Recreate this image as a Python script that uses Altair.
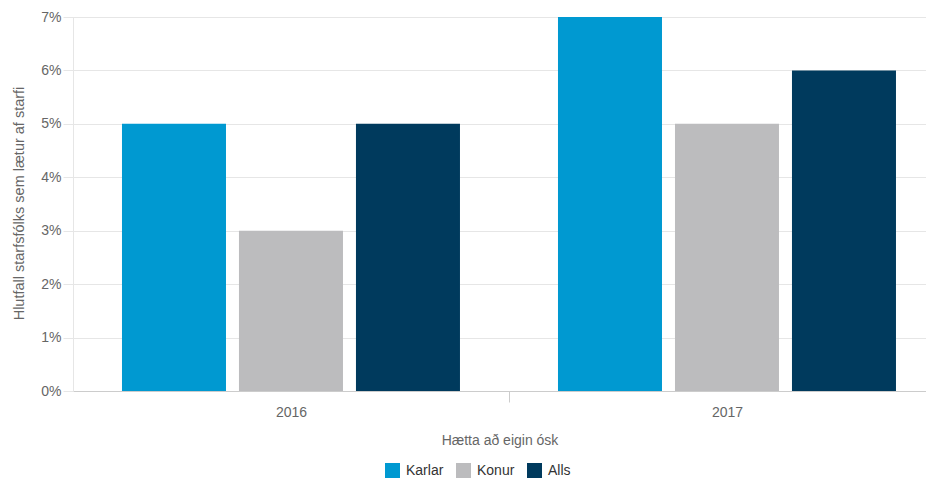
import altair as alt
import pandas as pd

years = ["2016", "2017"]
groups = ["Karlar", "Konur", "Alls"]
karlar = [0.05, 0.07]
konur = [0.03, 0.05]
alls = [0.05, 0.06]
colors = ["#0099D1", "#BCBCBE", "#003A5D"]
y_ticks = [0, 0.01, 0.02, 0.03, 0.04, 0.05, 0.06, 0.07]

rows = []
for i, yr in enumerate(years):
    for g, vals in zip(groups, [karlar, konur, alls]):
        rows.append({"year": yr, "group": g, "value": vals[i]})
df = pd.DataFrame(rows)

FONT = "Liberation Sans"

chart = alt.Chart(df).mark_bar().encode(
    x=alt.X(
        "year:N",
        sort=years,
        title="Hætta að eigin ósk",
        scale=alt.Scale(paddingInner=0.2248, paddingOuter=0.0906, align=0.62),
        axis=alt.Axis(
            labelAngle=0,
            tickOffset=218,
            labelOffset=-218,
            tickSize=11,
            tickColor="#cccccc",
            domainColor="#cccccc",
            labelPadding=3,
            labelFontSize=14,
            labelColor="#666666",
            titleFontSize=14,
            titleColor="#666666",
            titleFontWeight="normal",
            titlePadding=14,
            grid=False,
        ),
    ),
    xOffset=alt.XOffset(
        "group:N", sort=groups, scale=alt.Scale(paddingInner=0.111, paddingOuter=0)
    ),
    y=alt.Y(
        "value:Q",
        title="Hlutfall starfsfólks sem lætur af starfi",
        scale=alt.Scale(domain=[0, 0.07], nice=False),
        axis=alt.Axis(
            values=y_ticks,
            format=".0%",
            tickSize=10,
            tickColor="#e6e6e6",
            domainColor="#e6e6e6",
            gridColor="#e6e6e6",
            labelPadding=2,
            labelFontSize=14,
            labelColor="#666666",
            titleFontSize=14.5,
            titleColor="#666666",
            titleFontWeight="normal",
            titleX=-54,
            titleY=186,
            titleBaseline="middle",
        ),
    ),
    color=alt.Color(
        "group:N",
        sort=groups,
        scale=alt.Scale(domain=groups, range=colors),
        legend=alt.Legend(
            title=None,
            orient="none",
            legendX=312,
            legendY=446,
            direction="horizontal",
            symbolType="square",
            symbolSize=225,
            symbolStrokeWidth=0,
            labelFontSize=14,
            labelColor="#333333",
            labelOffset=6,
            columnPadding=12,
        ),
    ),
).properties(
    width=853,
    height=374,
    autosize=alt.AutoSizeParams(type="none"),
    padding={"left": 65, "top": 9, "right": 0, "bottom": 87},
).configure_view(stroke=None).configure(font=FONT)

chart.save("out.html", embed_options={"renderer": "svg", "actions": False})
